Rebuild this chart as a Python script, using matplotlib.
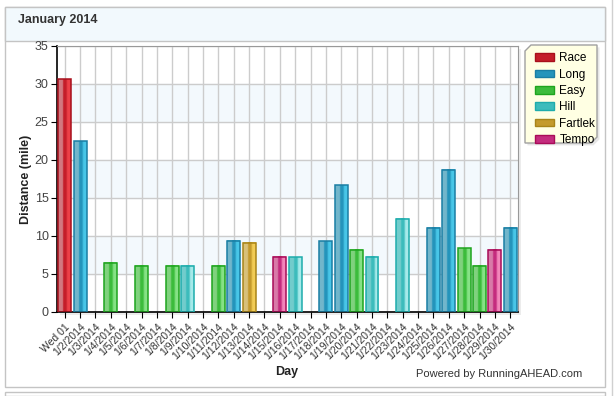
import matplotlib
matplotlib.use("Agg")
import matplotlib.pyplot as plt
import numpy as np
from matplotlib.colors import LinearSegmentedColormap
from matplotlib.patches import Rectangle, Polygon, Patch

# ---------------- data ----------------
day_labels = ["Wed 01", "1/2/2014", "1/3/2014", "1/4/2014", "1/5/2014", "1/6/2014",
              "1/7/2014", "1/8/2014", "1/9/2014", "1/10/2014", "1/11/2014", "1/12/2014",
              "1/13/2014", "1/14/2014", "1/15/2014", "1/16/2014", "1/17/2014", "1/18/2014",
              "1/19/2014", "1/20/2014", "1/21/2014", "1/22/2014", "1/23/2014", "1/24/2014",
              "1/25/2014", "1/26/2014", "1/27/2014", "1/28/2014", "1/29/2014", "1/30/2014"]
run_types = ["Race", "Long", None, "Easy", None, "Easy", None, "Easy", "Hill", None,
             "Easy", "Long", "Fartlek", None, "Tempo", "Hill", None, "Long", "Long", "Easy",
             "Hill", None, "Hill", None, "Long", "Long", "Easy", "Easy", "Tempo", "Long"]
distances = [30.6, 22.5, 0, 6.5, 0, 6.1, 0, 6.1, 6.1, 0,
             6.1, 9.4, 9.1, 0, 7.3, 7.2, 0, 9.3, 16.7, 8.2,
             7.3, 0, 12.3, 0, 11.1, 18.7, 8.4, 6.1, 8.2, 11.1]
legend_types = ["Race", "Long", "Easy", "Hill", "Fartlek", "Tempo"]
y_ticks = [0, 5, 10, 15, 20, 25, 30, 35]

# colours: (left light, dark middle, right bright, edge)
palette = {
    "Race":    ("#d27880", "#c41e2a", "#ec4048", "#a8101c"),
    "Long":    ("#72b6cb", "#2494bb", "#48c6e8", "#1a7ea4"),
    "Easy":    ("#80d27e", "#3cbc3c", "#86e286", "#1ea41e"),
    "Hill":    ("#72cccc", "#3cbcbc", "#a6eaea", "#1eacac"),
    "Fartlek": ("#d8c07a", "#c49a2c", "#f2cc56", "#a88418"),
    "Tempo":   ("#d87aa8", "#c42c7e", "#f286ba", "#a80c58"),
}

def make_cmap(name):
    l, d, r, e = palette[name]
    return LinearSegmentedColormap.from_list(
        name, [(0, l), (0.36, l), (0.42, d), (0.62, d), (0.74, r), (1.0, r)])

fig = plt.figure(figsize=(6.16, 3.96), dpi=100)
W, H = 616, 396
def fx(px): return px / W
def fy(py): return 1 - py / H

# ---------------- panel decorations ----------------
fig.patches.append(Rectangle((fx(5), fy(387)), fx(605) - fx(5), fy(7) - fy(387),
                             transform=fig.transFigure, facecolor="white",
                             edgecolor="#c4c4c4", lw=1, zorder=-3))
fig.patches.append(Rectangle((fx(5), fy(41)), fx(605) - fx(5), fy(7) - fy(41),
                             transform=fig.transFigure, facecolor="#f2f9fd",
                             edgecolor="#c4c4c4", lw=1, zorder=-2))
fig.patches.append(Rectangle((fx(5), fy(396)), fx(605) - fx(5), fy(392) - fy(396),
                             transform=fig.transFigure, facecolor="white",
                             edgecolor="#c4c4c4", lw=1, zorder=-2))
fig.lines.append(plt.Line2D([fx(612), fx(612)], [0, 1], transform=fig.transFigure,
                            color="#d0d0d0", lw=1))
fig.text(fx(18), fy(20), "January 2014", fontsize=9, fontweight="bold",
         color="#333333", va="center", ha="left", family="Liberation Sans")

# shadow of plot area
fig.patches.append(Rectangle((fx(60), fy(315)), fx(521) - fx(60), fy(49) - fy(315),
                             transform=fig.transFigure, facecolor="#ececec",
                             edgecolor="none", zorder=-1))

ax = fig.add_axes([fx(57), fy(312), fx(518) - fx(57), fy(46) - fy(312)])
ax.set_zorder(1)
ax.set_facecolor("white")

n = len(day_labels)
x = np.arange(n)
ax.set_xlim(-0.5, n - 0.5)
ax.set_ylim(0, 35)

# alternate bands
for lo in (5, 15, 25):
    ax.axhspan(lo, lo + 5, color="#f3f9fd", zorder=0)

ax.set_yticks(y_ticks)
ax.set_xticks(x)
ax.grid(True, color="#cccccc", lw=1, zorder=0.5)
ax.set_axisbelow(True)

width = 0.84
for i, (t, v) in enumerate(zip(run_types, distances)):
    if t is None:
        continue
    bar = ax.bar(x[i], v, width=width, facecolor="none",
                 edgecolor=palette[t][3], lw=1.1, zorder=3)[0]
    x0, w_, h_ = bar.get_x(), bar.get_width(), bar.get_height()
    grad = np.linspace(0, 1, 64).reshape(1, -1)
    ax.imshow(grad, cmap=make_cmap(t), extent=(x0, x0 + w_, 0, h_),
              aspect="auto", zorder=2, interpolation="bilinear")

ax.set_xlim(-0.5, n - 0.5)
ax.set_ylim(0, 35)

for s in ("top", "right"):
    ax.spines[s].set_color("#999999")
for s in ("left", "bottom"):
    ax.spines[s].set_color("black")
    ax.spines[s].set_linewidth(1.2)

ax.set_xticklabels(day_labels, rotation=45, ha="right", rotation_mode="anchor",
                   fontsize=7.5, color="#333333", family="Liberation Sans")
ax.tick_params(axis="x", length=4, color="black", pad=3)
ax.tick_params(axis="y", length=4, color="black", labelsize=9,
               labelcolor="#444444", pad=2)
for lab in ax.get_yticklabels():
    lab.set_family("Liberation Sans")

ax.set_ylabel("Distance (mile)", fontsize=9, fontweight="bold", color="#222222",
              family="Liberation Sans", labelpad=2)
fig.text(fx(287), fy(372), "Day", fontsize=9, fontweight="bold", color="#222222",
         ha="center", va="center", family="Liberation Sans")
fig.text(fx(582), fy(374), "Powered by RunningAHEAD.com", fontsize=8,
         color="#333333", ha="right", va="center", family="Liberation Sans")

# ---------------- legend ----------------
lx0, lx1, ly0, ly1, c = 525, 597, 45, 143, 6
poly = [(lx0 + c, ly0), (lx1, ly0), (lx1, ly1 - c), (lx1 - c, ly1),
        (lx0, ly1), (lx0, ly0 + c)]
fig.patches.append(Polygon([(fx(px) + 0.004, fy(py) - 0.006) for px, py in poly],
                           closed=True, transform=fig.transFigure,
                           facecolor="#e6e6e6", edgecolor="none", zorder=4))
fig.patches.append(Polygon([(fx(px), fy(py)) for px, py in poly], closed=True,
                           transform=fig.transFigure, facecolor="#ffffe3",
                           edgecolor="#a0a0a0", lw=1, zorder=5))
handles = [Patch(facecolor=palette[t][1], edgecolor=palette[t][3], lw=1)
           for t in legend_types]
leg = fig.legend(handles, legend_types, loc="upper left",
                 bbox_to_anchor=(fx(527), fy(44)), frameon=False,
                 handlelength=1.6, handleheight=0.6,
                 handletextpad=0.45, labelspacing=0.37, borderpad=0.2,
                 prop={"family": "Liberation Sans", "size": 8.5})
leg.set_zorder(6)

fig.savefig("out.png", dpi=100)
